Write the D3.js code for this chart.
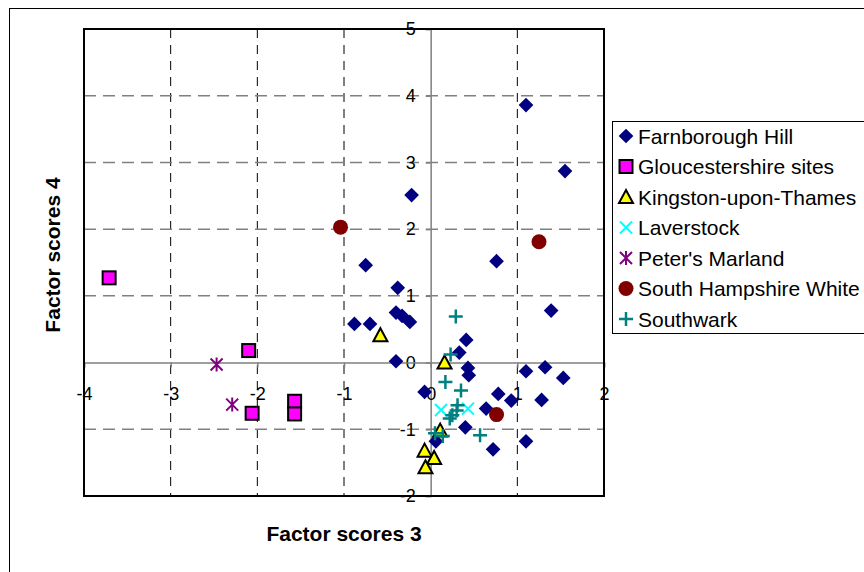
<!DOCTYPE html>
<html>
<head>
<meta charset="utf-8">
<script src="https://cdn.jsdelivr.net/npm/d3@7"></script>
<style>
  body { margin: 0; background: #fff; }
  svg { font-family: "Liberation Sans", Arial, sans-serif; }
</style>
</head>
<body>
<script>
(function(){

  //series data: [factor score 3, factor score 4]
  var farnborough = [[1.10,3.86],[1.55,2.87],[-0.22,2.51],[0.76,1.52],[-0.75,1.46],[-0.38,1.12],
    [1.39,0.78],[-0.40,0.75],[-0.33,0.70],[-0.24,0.61],[-0.88,0.58],[-0.70,0.58],[0.41,0.34],
    [0.33,0.15],[-0.40,0.02],[0.43,-0.08],[0.44,-0.19],[1.10,-0.13],[1.32,-0.07],[1.53,-0.23],
    [-0.07,-0.44],[0.78,-0.47],[0.93,-0.57],[1.28,-0.56],[0.64,-0.69],[0.40,-0.97],[0.72,-1.30],
    [1.10,-1.18],[0.06,-1.18]];
  var gloucestershire = [[-3.71,1.27],[-2.10,0.18],[-2.06,-0.76],[-1.57,-0.58],[-1.57,-0.77]];
  var kingston = [[-0.58,0.41],[0.16,0.00],[0.11,-1.02],[-0.07,-1.32],[0.04,-1.43],[-0.06,-1.57]];
  var laverstock = [[0.12,-0.71],[0.43,-0.69]];
  var petersMarland = [[-2.47,-0.03],[-2.29,-0.63]];
  var southHampshire = [[-1.04,2.03],[1.25,1.81],[0.76,-0.78]];
  var southwark = [[0.29,0.69],[0.23,0.12],[0.17,-0.29],[0.35,-0.42],[0.31,-0.64],[0.30,-0.72],
    [0.25,-0.79],[0.22,-0.84],[0.57,-1.09],[0.05,-1.06],[0.14,-1.10]];

  var seriesNames = ["Farnborough Hill", "Gloucestershire sites", "Kingston-upon-Thames",
    "Laverstock", "Peter's Marland", "South Hampshire White", "Southwark"];
  var seriesData = [farnborough, gloucestershire, kingston, laverstock, petersMarland, southHampshire, southwark];
  var markerTypes = ["diamond", "square", "triangle", "cross", "star", "circle", "plus"];

  var xTicks = [-4, -3, -2, -1, 0, 1, 2];
  var yTicks = [-2, -1, 0, 1, 2, 3, 4, 5];

  var width = 864, height = 572;
  var plot = {left: 84, right: 604, top: 29, bottom: 496};

  var svg = d3.select("body").append("svg")
    .attr("width", width)
    .attr("height", height);

  //outer chart frame (runs off the right and bottom of the picture)
  svg.append("rect")
    .attr("x", 9.5).attr("y", 8.5)
    .attr("width", 1000).attr("height", 1000)
    .attr("fill", "none")
    .attr("stroke", "#000")
    .attr("stroke-width", 1);

  var x = d3.scaleLinear().domain([-4, 2]).range([plot.left, plot.right]);
  var y = d3.scaleLinear().domain([-2, 5]).range([plot.bottom, plot.top]);

  //gridlines
  svg.append("g").selectAll("line")
    .data(xTicks.filter(function(d){ return d != 0 && d != -4 && d != 2; }))
    .enter().append("line")
    .attr("x1", function(d){ return x(d); }).attr("x2", function(d){ return x(d); })
    .attr("y1", plot.top).attr("y2", plot.bottom)
    .attr("stroke", "#000").attr("stroke-width", 1)
    .attr("stroke-dasharray", "9,7");

  svg.append("g").selectAll("line")
    .data(yTicks.filter(function(d){ return d != 0 && d != -2 && d != 5; }))
    .enter().append("line")
    .attr("y1", function(d){ return y(d); }).attr("y2", function(d){ return y(d); })
    .attr("x1", plot.left).attr("x2", plot.right)
    .attr("stroke", "#808080").attr("stroke-width", 1.5)
    .attr("stroke-dasharray", "12,7");

  //axes crossing at zero
  var yAxis = d3.axisLeft(y)
    .tickValues(yTicks)
    .tickSize(5)
    .tickPadding(10)
    .tickFormat(function(d){ return String(d); });

  var xAxis = d3.axisBottom(x)
    .tickValues(xTicks)
    .tickSize(5)
    .tickPadding(20)
    .tickFormat(function(d){ return String(d); });

  var gy = svg.append("g")
    .attr("transform", "translate(" + x(0) + ",0)")
    .call(yAxis);
  var gx = svg.append("g")
    .attr("transform", "translate(0," + y(0) + ")")
    .call(xAxis);

  [gx, gy].forEach(function(g){
    g.select(".domain").attr("stroke", "#808080").attr("stroke-width", 1.5);
    g.selectAll(".tick line").attr("stroke", "#808080").attr("stroke-width", 1.5);
    g.selectAll(".tick text").attr("fill", "#000").style("font-size", "18px")
      .style("font-family", "'Liberation Sans', Arial, sans-serif");
  });

  //plot border
  svg.append("rect")
    .attr("x", plot.left).attr("y", plot.top)
    .attr("width", plot.right - plot.left)
    .attr("height", plot.bottom - plot.top)
    .attr("fill", "none")
    .attr("stroke", "#000")
    .attr("stroke-width", 2);

  //draw one marker of the given type into a group
  function drawMarker(g, type){
    if (type == "diamond"){
      g.append("rect").attr("x", -5.2).attr("y", -5.2).attr("width", 10.4).attr("height", 10.4)
        .attr("transform", "rotate(45)").attr("fill", "#000080");
    } else if (type == "square"){
      g.append("rect").attr("x", -6.5).attr("y", -6.5).attr("width", 13).attr("height", 13)
        .attr("fill", "#ff00ff").attr("stroke", "#000").attr("stroke-width", 2);
    } else if (type == "triangle"){
      g.append("path").attr("d", "M0,-7L7,6L-7,6Z")
        .attr("fill", "#ffff00").attr("stroke", "#000").attr("stroke-width", 2)
        .attr("stroke-linejoin", "miter");
    } else if (type == "cross"){
      g.append("path").attr("d", "M-6,-6L6,6M-6,6L6,-6")
        .attr("stroke", "#00ffff").attr("stroke-width", 2);
    } else if (type == "star"){
      g.append("path").attr("d", "M-6,-6L6,6M-6,6L6,-6M0,-7L0,7")
        .attr("stroke", "#800080").attr("stroke-width", 2);
    } else if (type == "circle"){
      g.append("circle").attr("r", 7.5).attr("fill", "#800000");
    } else if (type == "plus"){
      g.append("path").attr("d", "M-7,0L7,0M0,-7L0,7")
        .attr("stroke", "#008080").attr("stroke-width", 2.5);
    }
  }

  //points for each series
  seriesData.forEach(function(data, i){
    svg.append("g").attr("class", "series")
      .selectAll("g")
      .data(data)
      .enter().append("g")
      .attr("transform", function(d){ return "translate(" + x(d[0]) + "," + y(d[1]) + ")"; })
      .each(function(){ drawMarker(d3.select(this), markerTypes[i]); });
  });

  //axis titles
  svg.append("text")
    .attr("x", 344).attr("y", 541)
    .attr("text-anchor", "middle")
    .style("font-size", "21px").style("font-weight", "bold")
    .text("Factor scores 3");

  svg.append("text")
    .attr("transform", "translate(60,255) rotate(-90)")
    .attr("text-anchor", "middle")
    .style("font-size", "21px").style("font-weight", "bold")
    .text("Factor scores 4");

  //legend
  var legend = svg.append("g");
  legend.append("rect")
    .attr("x", 612.5).attr("y", 121.5)
    .attr("width", 400).attr("height", 212)
    .attr("fill", "#fff").attr("stroke", "#000").attr("stroke-width", 1);

  var items = legend.selectAll(".item")
    .data(seriesNames)
    .enter().append("g")
    .attr("class", "item")
    .attr("transform", function(d, i){ return "translate(626," + (136 + i * 30.5) + ")"; });

  items.each(function(d, i){ drawMarker(d3.select(this), markerTypes[i]); });

  items.append("text")
    .attr("x", 12).attr("y", 7.5)
    .style("font-size", "21px")
    .text(function(d){ return d; });

})();
</script>
</body>
</html>
